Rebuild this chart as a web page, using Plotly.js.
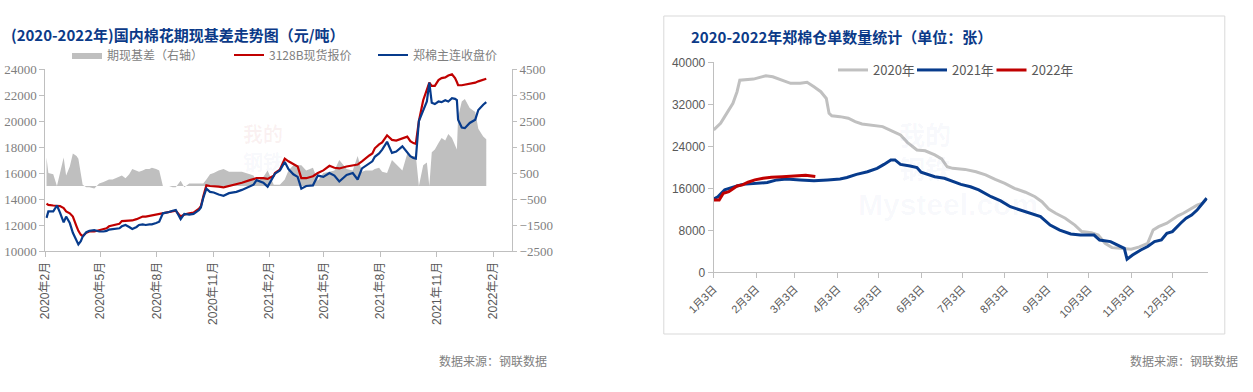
<!DOCTYPE html>
<html>
<head>
<meta charset="utf-8">
<script src="https://cdn.plot.ly/plotly-3.0.1.min.js"></script>
<style>
html,body{margin:0;padding:0;background:#ffffff;}
#chart{width:1253px;height:392px;}
</style>
</head>
<body>
<div id="chart"></div>
<script>
// ---------- Left chart: 国内棉花期现基差 ----------
const priceDates = ['2020-02-03','2020-02-06','2020-02-14','2020-02-20','2020-02-25','2020-03-02','2020-03-06','2020-03-12','2020-03-17','2020-03-23','2020-03-26','2020-03-30','2020-04-02','2020-04-08','2020-04-13','2020-04-21','2020-04-29','2020-05-06','2020-05-11','2020-05-15','2020-05-21','2020-05-26','2020-06-01','2020-06-05','2020-06-11','2020-06-17','2020-06-22','2020-06-29','2020-07-03','2020-07-09','2020-07-14','2020-07-20','2020-07-24','2020-07-31','2020-08-05','2020-08-11','2020-08-17','2020-08-21','2020-08-27','2020-09-01','2020-09-09','2020-09-15','2020-09-23','2020-09-30','2020-10-09','2020-10-12','2020-10-16','2020-10-21','2020-10-27','2020-11-02','2020-11-10','2020-11-18','2020-11-27','2020-12-09','2020-12-18','2020-12-31','2021-01-06','2021-01-11','2021-01-22','2021-01-29','2021-02-08','2021-02-10','2021-02-18','2021-02-26','2021-03-04','2021-03-12','2021-03-19','2021-03-25','2021-04-02','2021-04-13','2021-04-21','2021-04-30','2021-05-10','2021-05-18','2021-05-26','2021-06-07','2021-06-17','2021-06-25','2021-07-02','2021-07-08','2021-07-14','2021-07-19','2021-07-23','2021-07-30','2021-08-04','2021-08-12','2021-08-20','2021-08-27','2021-09-06','2021-09-14','2021-09-19','2021-09-24','2021-09-28','2021-10-03','2021-10-10','2021-10-16','2021-10-20','2021-10-24','2021-10-29','2021-11-04','2021-11-09','2021-11-15','2021-11-20','2021-11-26','2021-12-01','2021-12-04','2021-12-06','2021-12-12','2021-12-17','2021-12-25','2022-01-03','2022-01-08','2022-01-16','2022-01-21'];
const spotPrice = [13650,13550,13500,13500,13450,13300,13050,12900,12650,11900,11550,11250,11150,11400,11500,11500,11600,11650,11750,11900,11950,12000,12100,12300,12300,12300,12350,12450,12550,12650,12650,12700,12750,12800,12850,12900,12950,13000,13050,13100,12650,12800,12900,12950,13250,13450,14200,15050,15000,15000,14950,14900,15000,15100,15250,15450,15500,15600,15600,15550,15800,16000,16250,17100,16900,16700,16500,15600,15600,15750,16000,16200,16550,16400,16350,16500,16600,16650,16900,17150,17350,17500,17900,18200,18350,18900,18550,18500,18650,18800,18450,18300,18250,20000,21600,22400,22950,22700,22700,23150,23300,23350,23500,23600,23300,23000,22750,22750,22800,22850,22950,23050,23150,23250];
const futuresPrice = [12550,13050,13050,13500,12950,12200,12650,12150,11400,10750,10500,10750,11100,11450,11550,11600,11500,11500,11550,11650,11700,11700,11750,11900,12000,11850,11700,11850,12000,12050,12000,12050,12050,12150,12250,12900,12950,13000,13100,13150,12450,12850,12800,12850,13150,13350,14100,14800,14550,14500,14350,14250,14450,14550,14700,15000,15100,15450,15250,14950,15750,15950,16200,16850,16300,15900,15700,14800,15000,15050,15800,15700,16000,15800,15350,15850,16000,15500,16350,16550,16750,16900,17250,17500,17800,18400,17550,17650,18050,17550,17300,17150,17100,20000,20800,21500,22950,21400,21300,21500,21450,21600,21500,21750,21700,21600,20100,19500,19450,19850,20100,20850,21250,21450];
const basisValues = [1100,500,450,0,500,1100,400,750,1250,1150,1050,500,50,-50,-50,-100,100,150,200,250,250,300,350,400,300,450,650,600,550,600,650,650,700,650,600,0,0,0,-50,-50,200,-50,100,100,100,100,100,250,450,500,600,650,550,550,550,450,400,150,350,600,50,50,50,250,600,800,800,800,600,700,200,500,550,600,1000,650,600,1150,550,600,600,600,650,700,550,500,1000,850,600,1250,1150,1150,1150,0,800,900,0,1300,1400,1650,1850,1750,2000,1850,1600,1400,2650,3250,3350,3000,2850,2200,1900,1800];
const priceTickVals = ['2020-02-01','2020-05-01','2020-08-01','2020-11-01','2021-02-01','2021-05-01','2021-08-01','2021-11-01','2022-02-01'];
const priceTickText = ['2020年2月','2020年5月','2020年8月','2020年11月','2021年2月','2021年5月','2021年8月','2021年11月','2022年2月'];
const priceAxisTicks = [10000,12000,14000,16000,18000,20000,22000,24000];
const basisAxisTicks = [-2500,-1500,-500,500,1500,2500,3500,4500];

// ---------- Right chart: 郑棉仓单数量 ----------
const days2020 = ['01-03','01-08','01-11','01-14','01-17','01-20','01-22','02-01','02-10','02-15','02-20','02-28','03-07','03-12','03-17','03-22','03-26','03-28','03-30','04-05','04-11','04-16','04-21','04-27','05-06','05-13','05-19','05-24','05-31','06-06','06-13','06-18','06-22','06-26','07-05','07-13','07-20','07-27','08-03','08-10','08-18','08-25','08-30','09-04','09-09','09-16','09-23','09-28','10-05','10-10','10-15','10-20','10-27','11-03','11-09','11-15','11-19','11-23','11-29','12-04','12-07','12-11','12-15','12-21','12-25','12-28'];
const receipts2020 = [27100,28400,29650,30900,32200,34400,36600,36800,37450,37250,36800,36000,36000,36200,35350,34400,33100,30300,29800,29650,29350,28700,28250,28050,27750,26900,26150,24750,23300,23150,22350,21600,20100,19800,19600,19150,18550,17700,16950,16000,15250,14400,13450,12050,11250,10300,9000,7750,7550,7100,5520,4700,4500,4400,4850,5520,8050,8700,9350,10300,10750,11250,11850,12800,13150,14100];
const days2021 = ['01-03','01-06','01-11','01-14','01-20','01-24','02-01','02-11','02-18','02-25','03-07','03-17','03-27','04-05','04-10','04-17','04-25','05-02','05-07','05-12','05-15','05-19','05-26','05-31','06-03','06-06','06-13','06-20','06-26','07-02','07-09','07-15','07-24','07-31','08-07','08-14','08-21','08-29','09-05','09-12','09-20','09-27','10-07','10-11','10-19','10-26','10-29','10-31','11-04','11-10','11-15','11-20','11-25','11-29','12-03','12-09','12-13','12-17','12-21','12-25','12-28'];
const receipts2021 = [13970,14400,15700,16000,16450,16750,16950,17100,17600,17780,17600,17450,17600,17780,18050,18650,19150,19800,20550,21400,21400,20550,20250,19950,19050,18750,18200,17900,17250,16750,16300,15700,14400,13600,12500,11850,11250,10600,9000,8050,7300,7100,7100,6150,5850,4900,4550,2500,3300,4250,4900,5850,6150,7450,7750,9350,10300,10900,11850,13150,14100];
const days2022 = ['01-03','01-07','01-10','01-14','01-20','01-24','01-28','02-02','02-08','02-14','02-22','03-04','03-11','03-18'];
const receipts2022 = [13750,13750,15050,15350,16450,16650,17150,17600,17900,18100,18200,18350,18500,18250];
const receiptTickDays = ['01-03','02-03','03-03','04-03','05-03','06-03','07-03','08-03','09-03','10-03','11-03','12-03'];
const receiptTickText = ['1月3日','2月3日','3月3日','4月3日','5月3日','6月3日','7月3日','8月3日','9月3日','10月3日','11月3日','12月3日'];
const receiptAxisTicks = [0,8000,16000,24000,32000,40000];

// ---------- helpers ----------
const W = 1253, H = 392;
const px = v => v / W;
const py = v => 1 - v / H;
const onYear = d => '2021-' + d;
const SANS = '"Liberation Sans", "Noto Sans CJK SC", Arial, sans-serif';
const CJK = '"Noto Sans CJK SC", "Liberation Sans", sans-serif';
const SERIF = '"Liberation Serif", "Noto Sans CJK SC", serif';
const AXIS = '#bfbfbf';

const traces = [
  {x: priceDates, y: basisValues, type: 'scatter', mode: 'lines', name: '期现基差（右轴）',
   fill: 'tozeroy', fillcolor: '#bfbfbf', line: {width: 0, color: '#bfbfbf'},
   xaxis: 'x', yaxis: 'y', legend: 'legend'},
  {x: priceDates, y: spotPrice, type: 'scatter', mode: 'lines', name: '3128B现货报价',
   line: {width: 2.2, color: '#c00000'}, xaxis: 'x', yaxis: 'y2', legend: 'legend2'},
  {x: priceDates, y: futuresPrice, type: 'scatter', mode: 'lines', name: '郑棉主连收盘价',
   line: {width: 2.2, color: '#073b8c'}, xaxis: 'x', yaxis: 'y2', legend: 'legend3'},
  {x: days2020.map(onYear), y: receipts2020, type: 'scatter', mode: 'lines', name: '2020年',
   line: {width: 3, color: '#c0c0c0'}, xaxis: 'x2', yaxis: 'y3', legend: 'legend4'},
  {x: days2021.map(onYear), y: receipts2021, type: 'scatter', mode: 'lines', name: '2021年',
   line: {width: 3, color: '#073b8c'}, xaxis: 'x2', yaxis: 'y3', legend: 'legend5'},
  {x: days2022.map(onYear), y: receipts2022, type: 'scatter', mode: 'lines', name: '2022年',
   line: {width: 3, color: '#c00000'}, xaxis: 'x2', yaxis: 'y3', legend: 'legend6'}
];

function legendAt(x, y, size, color) {
  return {x: px(x), xanchor: 'left', y: py(y), yanchor: 'middle', orientation: 'v',
          bgcolor: 'rgba(0,0,0,0)', borderwidth: 0, itemwidth: 30,
          font: {family: CJK, size: size, color: color}};
}

const layout = {
  width: W, height: H, autosize: false,
  margin: {l: 0, r: 0, t: 0, b: 0, pad: 0},
  paper_bgcolor: '#ffffff', plot_bgcolor: 'rgba(0,0,0,0)',
  showlegend: true,
  legend: legendAt(67, 55, 12, '#7f7f7f'),
  legend2: legendAt(229, 55, 12, '#7f7f7f'),
  legend3: legendAt(373, 55, 12, '#7f7f7f'),
  legend4: legendAt(833, 70, 13, '#595959'),
  legend5: legendAt(912, 70, 13, '#595959'),
  legend6: legendAt(991.5, 70, 13, '#595959'),
  xaxis: {
    domain: [px(45.3), px(512)], anchor: 'y', type: 'date',
    range: ['2020-02-01', '2022-03-04'],
    tickmode: 'array', tickvals: priceTickVals, ticktext: priceTickText,
    tickangle: -90, ticks: 'outside', ticklen: 5, tickcolor: AXIS,
    showline: true, linecolor: AXIS, linewidth: 1, showgrid: false, zeroline: false,
    tickfont: {family: SANS, size: 12, color: '#595959'}
  },
  yaxis: {
    domain: [py(251), py(69)], anchor: 'x', side: 'right',
    range: [-2500, 4500], tickmode: 'array', tickvals: basisAxisTicks, tickformat: 'd',
    ticks: 'outside', ticklen: 4, tickcolor: AXIS,
    showline: true, linecolor: AXIS, showgrid: false, zeroline: false,
    tickfont: {family: SERIF, size: 13, color: '#7f7f7f'}
  },
  yaxis2: {
    overlaying: 'y', anchor: 'x', side: 'left',
    range: [10000, 24000], tickmode: 'array', tickvals: priceAxisTicks, tickformat: 'd',
    ticks: 'outside', ticklen: 5, tickcolor: AXIS,
    showline: true, linecolor: AXIS, showgrid: false, zeroline: false,
    tickfont: {family: SERIF, size: 13, color: '#7f7f7f'}
  },
  xaxis2: {
    domain: [px(713.7), px(1207.5)], anchor: 'y3', type: 'date',
    range: ['2021-01-03', '2021-12-28 14:00'],
    tickmode: 'array', tickvals: receiptTickDays.map(onYear), ticktext: receiptTickText,
    tickangle: -45, ticks: 'outside', ticklen: 5, tickcolor: AXIS,
    showline: true, linecolor: AXIS, showgrid: false, zeroline: false,
    tickfont: {family: SANS, size: 11, color: '#595959'}
  },
  yaxis3: {
    domain: [py(272.3), py(62.3)], anchor: 'x2',
    range: [0, 40000], tickmode: 'array', tickvals: receiptAxisTicks, tickformat: 'd',
    ticks: 'outside', ticklen: 5, tickcolor: AXIS,
    showline: true, linecolor: AXIS, showgrid: false, zeroline: false,
    tickfont: {family: SANS, size: 12, color: '#595959'}
  },
  shapes: [
    {type: 'rect', xref: 'paper', yref: 'paper', x0: px(663.8), x1: px(1224.8), y0: py(334), y1: py(16),
     line: {color: '#d9d9d9', width: 1}, fillcolor: 'rgba(0,0,0,0)', layer: 'below'}
  ],
  annotations: [
    {xref: 'paper', yref: 'paper', x: px(9), y: py(34), xanchor: 'left', yanchor: 'middle', showarrow: false,
     text: '(2020-2022年)国内棉花期现基差走势图（元/吨）',
     font: {family: CJK, size: 15, weight: 700, color: '#0b3a88'}},
    {xref: 'paper', yref: 'paper', x: px(688.5), y: py(37), xanchor: 'left', yanchor: 'middle', showarrow: false,
     text: '2020-2022年郑棉仓单数量统计（单位：张）',
     font: {family: CJK, size: 15, weight: 700, color: '#0b3a88'}},
    {xref: 'paper', yref: 'paper', x: px(437), y: py(360), xanchor: 'left', yanchor: 'middle', showarrow: false,
     text: '数据来源：钢联数据', font: {family: CJK, size: 12, color: '#7f7f7f'}},
    {xref: 'paper', yref: 'paper', x: px(1128), y: py(360), xanchor: 'left', yanchor: 'middle', showarrow: false,
     text: '数据来源：钢联数据', font: {family: CJK, size: 12, color: '#7f7f7f'}},
    // faint watermarks, kept apart from each other
    {xref: 'paper', yref: 'paper', x: px(263), y: py(133), xanchor: 'center', yanchor: 'middle', showarrow: false,
     text: '我的', font: {family: CJK, size: 20, weight: 700, color: 'rgba(190,40,40,0.06)'}},
    {xref: 'paper', yref: 'paper', x: px(263), y: py(162), xanchor: 'center', yanchor: 'middle', showarrow: false,
     text: '钢铁', font: {family: CJK, size: 20, weight: 700, color: 'rgba(60,80,160,0.05)'}},
    {xref: 'paper', yref: 'paper', x: px(925), y: py(150), xanchor: 'center', yanchor: 'middle', showarrow: false,
     text: '我的<br>钢铁', font: {family: CJK, size: 26, weight: 700, color: 'rgba(60,80,160,0.045)'}},
    {xref: 'paper', yref: 'paper', x: px(948), y: py(204), xanchor: 'center', yanchor: 'middle', showarrow: false,
     text: 'Mysteel.com', font: {family: SANS, size: 30, weight: 700, color: 'rgba(40,70,160,0.035)'}}
  ]
};

Plotly.newPlot('chart', traces, layout, {displayModeBar: false, staticPlot: true});
</script>
</body>
</html>
